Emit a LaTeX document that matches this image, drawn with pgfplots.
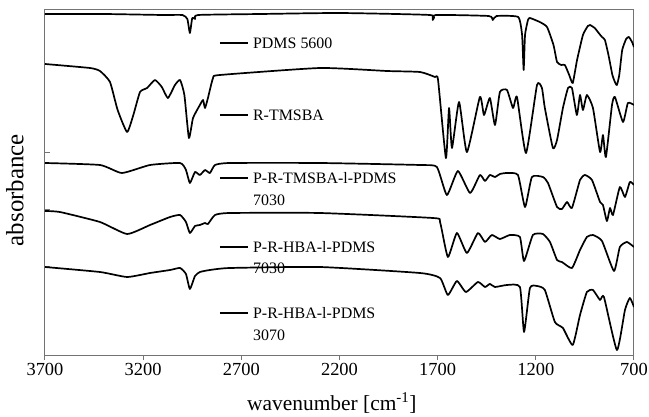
\documentclass[border=0pt]{standalone}
\usepackage{fontspec}
\setmainfont{Liberation Serif}
\usepackage{pgfplots}
\pgfplotsset{compat=1.18}
\begin{document}
\begin{tikzpicture}
\begin{axis}[name=ax, scale only axis, width=589bp, height=345bp,
  x dir=reverse, xmin=700, xmax=3700, ymin=0, ymax=345,
  xtick={700,1200,1700,2200,2700,3200,3700},
  ytick={88,145,202}, yticklabels={},
  xtick pos=lower, ytick pos=left,
  xtick align=outside, ytick align=inside,
  major tick length=5bp,
  axis line style={black!55, line width=1bp},
  tick style={black!55, line width=1bp},
  /pgf/number format/assume math mode=true,
  /pgf/number format/1000 sep={},
  xticklabel style={font=\fontsize{18.5}{20}\selectfont, text=black},
  xlabel={wavenumber [cm\textsuperscript{-1}]},
  ylabel={absorbance},
  xlabel style={font=\fontsize{21.5}{24}\selectfont, at={(axis description cs:0.487,-0.139)}, anchor=center},
  ylabel style={font=\fontsize{25}{28}\selectfont, at={(axis description cs:-0.051,0.478)}, anchor=center, rotate=0},
  spec/.style={black, mark=none, line width=1.7bp, line join=round, smooth, tension=0.3},
]
% PDMS 5600
\addplot[spec] coordinates {
(3700,341) (3400,341) (3100,340) (3000,340) (2975,336) (2962,322) (2950,337) (2935,336) (2920,340)
(2600,341) (2200,342) (1740,340) (1725,335) (1710,340) (1440,339) (1420,335) (1400,339)
(1290,338) (1270,320) (1262,285) (1255,320) (1240,335) (1230,337) (1180,333) (1143,328)
(1110,310) (1092,293) (1070,290) (1052,290) (1030,280) (1012,272) (990,295) (960,320)
(935,329) (924,330) (900,327) (880,322) (863,318) (848,315) (830,300) (810,280) (795,272)
(787,270) (775,280) (760,305) (740,316) (726,318) (710,313) (700,308)
};
% R-TMSBA
\addplot[spec] coordinates {
(3700,291) (3471,287) (3420,284) (3369,273) (3330,245) (3282,223) (3250,240) (3216,263) (3180,267)
(3140,275) (3105,268) (3074,257) (3038,270) (3012,275) (2990,260) (2967,217) (2946,237)
(2911,250) (2895,255) (2885,247) (2870,257) (2844,277) (2809,280) (2299,287) (1958,284)
(1790,283) (1714,278) (1698,275) (1658,197) (1642,247) (1627,207) (1591,253) (1551,203)
(1485,258) (1464,240) (1434,257) (1408,230) (1383,263) (1347,265) (1316,247) (1296,258)
(1250,202) (1194,270) (1169,267) (1154,247) (1113,207) (1092,215) (1062,247) (1036,267)
(1016,267) (991,240) (975,260) (960,245) (940,260) (909,247) (873,203) (858,220) (843,198)
(812,250) (797,258) (756,233) (731,252) (700,250)
};
% P-R-TMSBA-l-PDMS 7030
\addplot[spec] coordinates {
(3700,192) (3420,190) (3308,182) (3165,190) (3012,192) (2982,185) (2962,172) (2936,183)
(2911,180) (2885,185) (2860,182) (2834,190) (2758,192) (2299,192) (1790,190) (1704,188)
(1653,160) (1597,184) (1535,162) (1485,180) (1459,174) (1434,180) (1408,178) (1383,181)
(1347,182) (1291,180) (1255,148) (1220,178) (1164,178) (1138,172) (1092,148) (1067,146)
(1041,153) (1016,147) (975,175) (950,180) (914,175) (873,153) (858,150) (838,134) (822,147)
(807,140) (772,168) (746,158) (721,173) (700,170)
};
% P-R-HBA-l-PDMS 7030
\addplot[spec] coordinates {
(3700,144) (3624,143) (3420,133) (3282,121) (3165,130) (3063,138) (3012,140) (2982,133)
(2962,122) (2936,129) (2911,130) (2885,132) (2870,131) (2834,140) (2758,142) (2299,142)
(1724,137) (1688,133) (1648,98) (1602,122) (1551,102) (1495,122) (1459,113) (1424,120)
(1383,116) (1332,120) (1281,118) (1260,94) (1215,120) (1164,121) (1128,113) (1092,95)
(1067,93) (1016,87) (975,105) (940,118) (909,120) (863,114) (802,84) (772,108) (736,113) (700,108)
};
% P-R-HBA-l-PDMS 3070
\addplot[spec] coordinates {
(3700,88) (3420,83) (3282,78) (3165,82) (3063,85) (3012,87) (2982,81) (2962,66) (2936,79)
(2911,83) (2860,85) (2758,87) (2299,88) (1790,82) (1688,77) (1648,60) (1602,74) (1556,63)
(1495,73) (1459,68) (1434,71) (1408,68) (1347,70) (1281,68) (1260,23) (1230,67) (1194,69)
(1154,65) (1103,33) (1062,27) (1012,10) (975,40) (940,63) (909,65) (873,55) (853,58)
(787,5) (746,45) (721,57) (700,48)
};
% labels
\draw[black, line width=1.3bp] (axis cs:2809,312) -- (axis cs:2666,312);
\node[anchor=west, inner sep=0pt, font=\fontsize{16}{18}\selectfont] at (axis cs:2641,312) {PDMS 5600};
\draw[black, line width=1.3bp] (axis cs:2809,240) -- (axis cs:2666,240);
\node[anchor=west, inner sep=0pt, font=\fontsize{16}{18}\selectfont] at (axis cs:2641,240) {R-TMSBA};
\draw[black, line width=1.3bp] (axis cs:2809,177) -- (axis cs:2666,177);
\node[anchor=west, inner sep=0pt, font=\fontsize{16}{18}\selectfont] at (axis cs:2641,177) {P-R-TMSBA-l-PDMS};
\node[anchor=west, inner sep=0pt, font=\fontsize{16}{18}\selectfont] at (axis cs:2641,155) {7030};
\draw[black, line width=1.3bp] (axis cs:2809,108) -- (axis cs:2666,108);
\node[anchor=west, inner sep=0pt, font=\fontsize{16}{18}\selectfont] at (axis cs:2641,108) {P-R-HBA-l-PDMS};
\node[anchor=west, inner sep=0pt, font=\fontsize{16}{18}\selectfont] at (axis cs:2641,87) {7030};
\draw[black, line width=1.3bp] (axis cs:2809,42) -- (axis cs:2666,42);
\node[anchor=west, inner sep=0pt, font=\fontsize{16}{18}\selectfont] at (axis cs:2641,42) {P-R-HBA-l-PDMS};
\node[anchor=west, inner sep=0pt, font=\fontsize{16}{18}\selectfont] at (axis cs:2641,20) {3070};
\end{axis}
\pgfresetboundingbox
\path[use as bounding box] ([shift={(-45bp,-62bp)}]ax.south west) rectangle ([shift={(15bp,10bp)}]ax.north east);
\end{tikzpicture}
\end{document}
